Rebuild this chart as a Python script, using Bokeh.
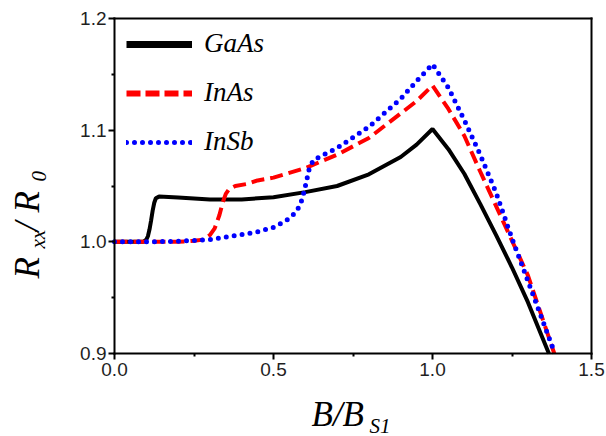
import numpy as np
from bokeh.plotting import figure
from bokeh.models import (Range1d, FixedTicker, Legend, LegendItem, Label,
                          PrintfTickFormatter, LinearAxis)
from bokeh.embed import file_html
from bokeh.resources import INLINE

# ---------------- data ----------------
gaas_x = [0.0, 0.05, 0.09, 0.10, 0.105, 0.11, 0.115, 0.12, 0.125, 0.13, 0.14, 0.2, 0.3, 0.4,
          0.5, 0.6, 0.7, 0.8, 0.9, 0.95, 1.0, 1.05, 1.1, 1.15, 1.2, 1.25, 1.3, 1.366]
gaas_y = [1.0, 1.0, 1.0, 1.002, 1.005, 1.011, 1.019, 1.028, 1.035, 1.039, 1.0405, 1.0398, 1.038, 1.038,
          1.040, 1.0445, 1.050, 1.0605, 1.076, 1.087, 1.101, 1.083, 1.061, 1.034, 1.006, 0.977, 0.946, 0.9]

inas_x = [0.0, 0.1, 0.2, 0.25, 0.28, 0.30, 0.315, 0.33, 0.34, 0.35, 0.36, 0.38, 0.42, 0.45,
          0.5, 0.6, 0.7, 0.8, 0.9, 0.95, 1.0, 1.05, 1.1, 1.15, 1.2, 1.25, 1.3, 1.383]
inas_y = [1.0, 1.0, 1.0, 1.001, 1.002, 1.006, 1.012, 1.024, 1.035, 1.043, 1.047, 1.050, 1.052, 1.055,
          1.0575, 1.066, 1.078, 1.093, 1.115, 1.126, 1.140, 1.119, 1.095, 1.063, 1.032, 1.001, 0.970, 0.9]

insb_x = [0.0, 0.1, 0.2, 0.3, 0.4, 0.45, 0.5, 0.54, 0.565, 0.58, 0.59, 0.598, 0.605, 0.612, 0.625,
          0.65, 0.7, 0.8, 0.9, 0.95, 1.0, 1.05, 1.1, 1.15, 1.2, 1.25, 1.3, 1.385]
insb_y = [1.0, 1.0, 1.0005, 1.002, 1.0065, 1.009, 1.013, 1.019, 1.025, 1.031, 1.038, 1.047, 1.056, 1.065, 1.073,
          1.077, 1.084, 1.103, 1.128, 1.144, 1.159, 1.138, 1.109, 1.078, 1.044, 1.003, 0.965, 0.9]

series_names = ["GaAs", "InAs", "InSb"]
x_ticks = [0.0, 0.5, 1.0, 1.5]
x_minor = [0.25, 0.75, 1.25]
y_ticks = [0.9, 1.0, 1.1, 1.2]
y_minor = [0.95, 1.05, 1.15]

# ---------------- layout ----------------
W, H = 606, 436
FL, FR, FT, FB = 114, 591, 18, 353     # pixel box of the axes
X0, X1 = 0.0, 1.5
Y0, Y1 = 0.9, 1.2
SX = (FR - FL) / (X1 - X0)
SY = (FB - FT) / (Y1 - Y0)


def dx(px):
    return X0 + (px - FL) / SX


def dy(py):
    return Y0 + (FB - py) / SY


# the plotting frame covers the whole canvas; the axes box is drawn with fixed axes
p = figure(width=W, height=H, output_backend="svg", toolbar_location=None,
           x_range=Range1d(dx(0), dx(W)), y_range=Range1d(dy(H), dy(0)),
           x_axis_location=None, y_axis_location=None,
           min_border=0, min_border_left=0, min_border_right=0,
           min_border_top=0, min_border_bottom=0)
p.xgrid.visible = False
p.ygrid.visible = False
p.outline_line_color = None
p.background_fill_color = "white"
p.border_fill_color = "white"


def style_axis(ax, show):
    ax.axis_line_width = 2
    ax.axis_line_color = "black"
    ax.axis_line_cap = "square"
    ax.major_tick_line_width = 2
    ax.minor_tick_line_width = 2
    ax.major_tick_out = 6 if show else 0
    ax.major_tick_in = 0
    ax.minor_tick_out = 3 if show else 0
    ax.minor_tick_in = 0
    ax.major_label_text_font = "Liberation Sans"
    ax.major_label_text_font_size = "19px"
    ax.major_label_text_color = "#1f1f1f"
    ax.formatter = PrintfTickFormatter(format="%.1f")


xb = LinearAxis(fixed_location=Y0, bounds=(X0, X1),
                ticker=FixedTicker(ticks=x_ticks, minor_ticks=x_minor))
style_axis(xb, True)
xb.major_label_standoff = 3
p.add_layout(xb, "below")

yl = LinearAxis(fixed_location=X0, bounds=(Y0, Y1),
                ticker=FixedTicker(ticks=y_ticks, minor_ticks=y_minor))
style_axis(yl, True)
yl.major_label_standoff = 2
p.add_layout(yl, "left")

xt = LinearAxis(fixed_location=Y1, bounds=(X0, X1), ticker=FixedTicker(ticks=[], minor_ticks=[]))
style_axis(xt, False)
p.add_layout(xt, "above")

yr = LinearAxis(fixed_location=X1, bounds=(Y0, Y1), ticker=FixedTicker(ticks=[], minor_ticks=[]))
style_axis(yr, False)
p.add_layout(yr, "right")

# curves
p.line(gaas_x, gaas_y, line_color="black", line_width=4)
p.line(inas_x, inas_y, line_color="#ff0000", line_width=4, line_dash="13 6")
p.line(insb_x, insb_y, line_color="#0000ff", line_width=5, line_dash="0 8", line_cap="round")

# legend-only renderers (hidden on the plot, drawn thicker in the legend)
lg1 = p.line(gaas_x, gaas_y, line_color="black", line_width=7, visible=False)
lg2 = p.line(inas_x, inas_y, line_color="#ff0000", line_width=6, line_dash="14 5", visible=False)
lg3 = p.line(insb_x, insb_y, line_color="#0000ff", line_width=5, line_dash="0 8",
             line_cap="round", visible=False)

PAD = 10
GH = 30
SP = 18
leg_h = 2 * PAD + 3 * GH + 2 * SP
leg_left = 126 - PAD
leg_top = 46 - GH // 2 - PAD
legend = Legend(items=[LegendItem(label=series_names[0], renderers=[lg1]),
                       LegendItem(label=series_names[1], renderers=[lg2]),
                       LegendItem(label=series_names[2], renderers=[lg3])],
                location=(leg_left, H - (leg_top + leg_h)),
                glyph_width=66, glyph_height=GH, label_height=GH,
                label_standoff=12, spacing=SP, padding=PAD, margin=0,
                border_line_alpha=0, background_fill_alpha=0,
                label_text_font="Liberation Serif", label_text_font_style="italic",
                label_text_font_size="27px", label_text_color="black")
p.add_layout(legend)

# axis titles built from pieces (for subscripts)
serif = "Liberation Serif"


def lab(text, px, py, size, angle=0.0):
    p.add_layout(Label(x=dx(px), y=dy(py), text=text, x_units="data", y_units="data",
                       angle=angle, text_font=serif, text_font_style="italic",
                       text_font_size=size, text_color="black",
                       text_align="left", text_baseline="alphabetic"))


# x title: B/B_S1
lab("B/B", 311, 414, "35px")
lab("S1", 369, 425, "21px")

# y title: R_xx / R_0 (rotated)
r90 = np.pi / 2
lab("R", 27, 278, "35px", r90)
lab("xx", 37, 248, "21px", r90)
lab("/", 27, 231, "35px", r90)
lab("R", 27, 212, "35px", r90)
lab("0", 38, 181, "21px", r90)

open("out.html", "w").write(file_html(p, INLINE))
